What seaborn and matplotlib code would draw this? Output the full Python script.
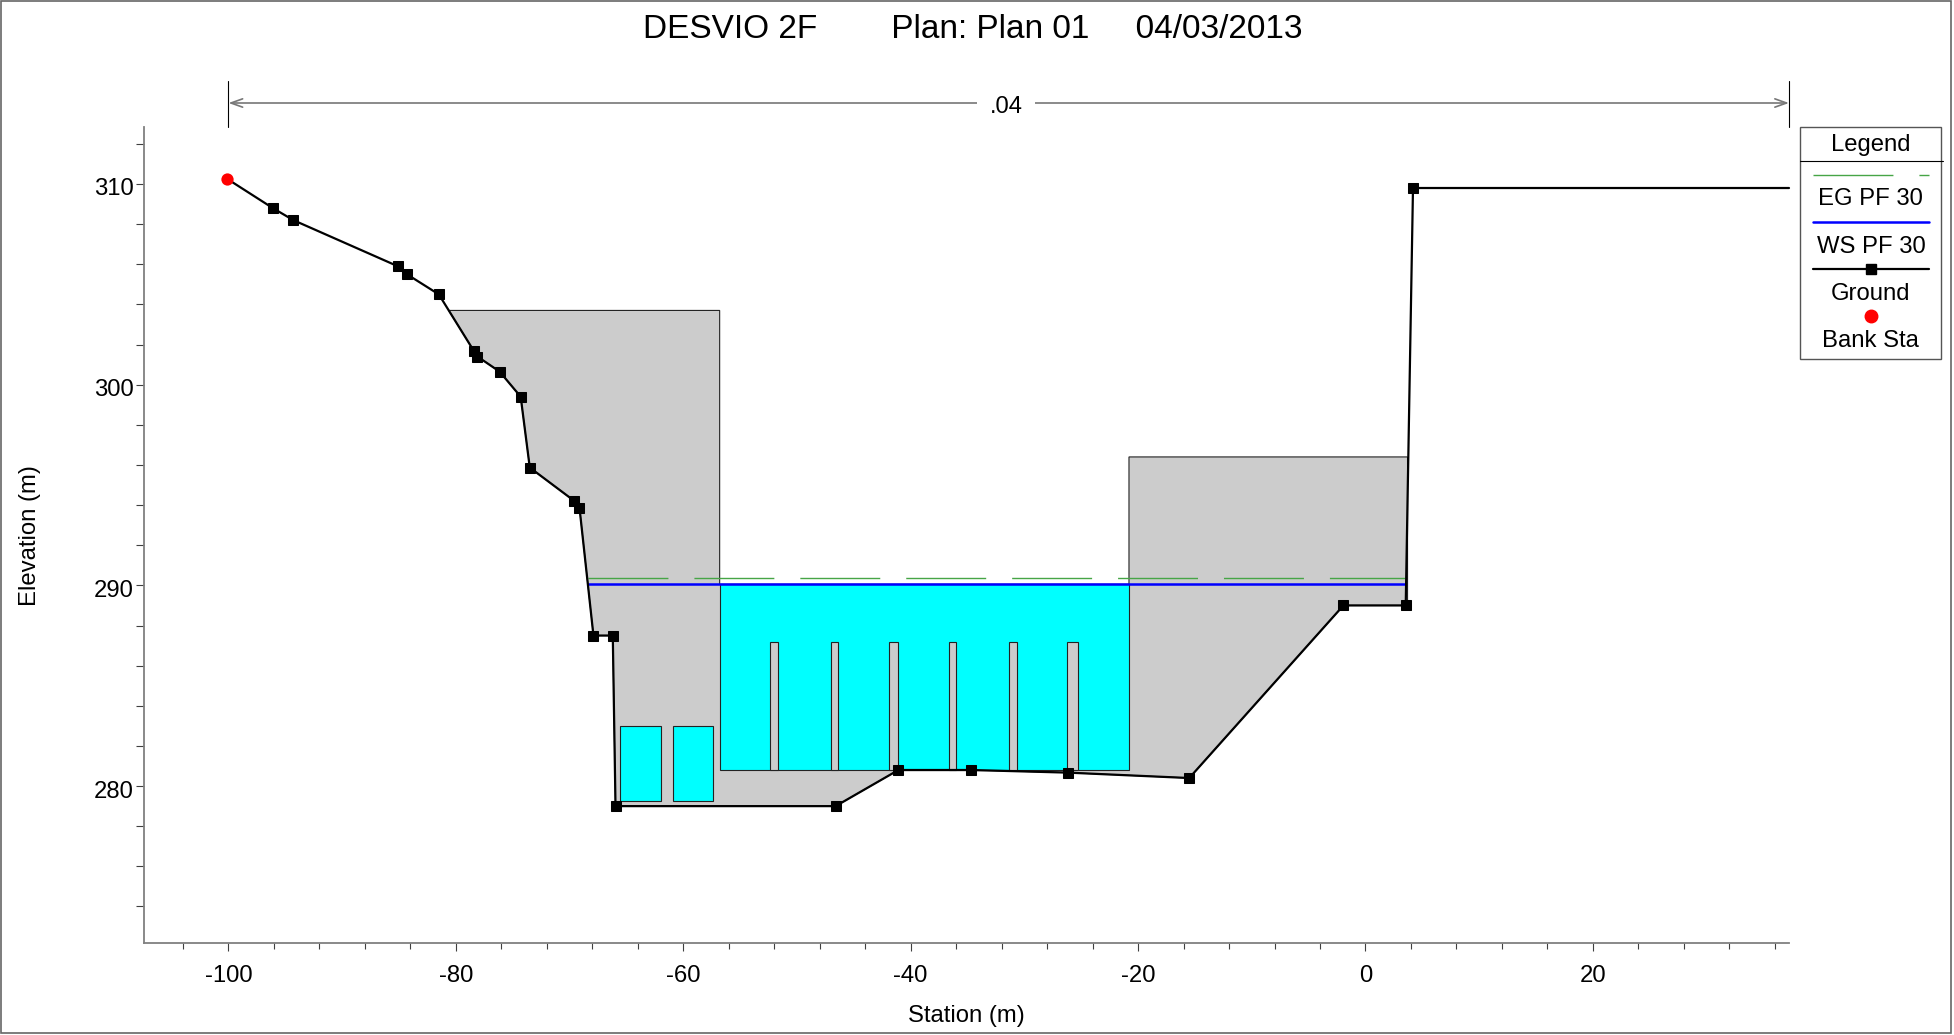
import numpy as np
import pandas as pd
import matplotlib
matplotlib.use("Agg")
import matplotlib.pyplot as plt
from matplotlib.legend_handler import HandlerLine2D
from matplotlib.lines import Line2D
from matplotlib.offsetbox import VPacker
from matplotlib.patches import Rectangle
from matplotlib.ticker import FixedLocator, FixedFormatter
from matplotlib.transforms import IdentityTransform, ScaledTranslation
import seaborn as sns

# ---- data ----
ground_x = [-100.1, -96.1, -94.3, -85.1, -84.3, -81.5, -78.44, -78.1, -76.15, -74.3, -73.5,
            -69.57, -69.13, -67.9, -66.2, -65.96, -46.6, -41.08, -34.7, -26.2, -15.5,
            -1.94, 3.54, 4.18, 37.25]
ground_y = [310.25, 308.8, 308.2, 305.9, 305.5, 304.5, 301.7, 301.4, 300.65, 299.4, 295.87,
            294.2, 293.88, 287.5, 287.5, 279.0, 279.0, 280.8, 280.8, 280.67, 280.4,
            289.0, 289.0, 309.8, 309.8]
bank_x = [-100.1]
bank_y = [310.25]
ws_x = [-68.4, 3.5]
ws_y = [290.05, 290.05]
eg_x = [-68.4, 3.5]
eg_y = [290.37, 290.37]

left_block_x = [-80.63, -56.8]
left_block_top = 303.7
right_block_x = [-20.8, 3.7]
right_block_top = 296.4
water_x = [-56.8, -20.8]
water_y = [280.8, 290.05]
pillar_x = [(-52.39, -51.71), (-47.05, -46.36), (-41.91, -41.08),
            (-36.63, -35.99), (-31.32, -30.67), (-26.23, -25.32)]
pillar_y = [280.8, 287.18]
culvert_x = [(-65.53, -61.94), (-60.87, -57.41)]
culvert_y = [279.24, 283.0]

xticks_major = [-100, -80, -60, -40, -20, 0, 20]
xticks_minor = [-104, -96, -92, -88, -84, -76, -72, -68, -64, -56, -52, -48, -44, -36, -32,
                -28, -24, -16, -12, -8, -4, 4, 8, 12, 16, 24, 28, 32, 36]
yticks_major = [280, 290, 300, 310]
yticks_minor = [274, 276, 278, 282, 284, 286, 288, 292, 294, 296, 298, 302, 304, 306, 308, 312]

title = "DESVIO 2F        Plan: Plan 01     04/03/2013"
manning = ".04"

# ---- style ----
sns.set_theme(style="white")
FS = 17.2
plt.rcParams["font.family"] = ["Liberation Sans", "DejaVu Sans"]
plt.rcParams["axes.unicode_minus"] = False

W, H = 1954, 1035
fig = plt.figure(figsize=(W / 100, H / 100), dpi=100, facecolor="white")
ax = fig.add_axes([144 / W, (H - 943) / H, (1789 - 144) / W, (943 - 127) / H])
ax.set_xlim(-107.43, 37.25)
ax.set_ylim(272.18, 312.84)

GRAY = "#cccccc"
CYAN = "#00ffff"
GREEN = "#46a546"
EDGE = dict(edgecolor="#222222", linewidth=0.8)

# grey obstruction outline following the ground
gx, gy = np.array(ground_x), np.array(ground_y)
poly_x = [left_block_x[0]] + list(gx[6:23]) + [right_block_x[1], right_block_x[1], right_block_x[0],
          right_block_x[0], left_block_x[1], left_block_x[1]]
poly_y = [left_block_top] + list(gy[6:23]) + [gy[22], right_block_top, right_block_top,
          water_y[1], water_y[1], left_block_top]
ax.fill(poly_x, poly_y, facecolor=GRAY, zorder=1, **EDGE)

ax.add_patch(Rectangle((water_x[0], water_y[0]), water_x[1] - water_x[0], water_y[1] - water_y[0],
                       facecolor=CYAN, zorder=2, **EDGE))
for a, b in pillar_x:
    ax.add_patch(Rectangle((a, pillar_y[0]), b - a, pillar_y[1] - pillar_y[0],
                           facecolor=GRAY, zorder=3, **EDGE))
for a, b in culvert_x:
    ax.add_patch(Rectangle((a, culvert_y[0]), b - a, culvert_y[1] - culvert_y[0],
                           facecolor=CYAN, zorder=3, **EDGE))

sns.lineplot(x=eg_x, y=eg_y, ax=ax, color=GREEN, linewidth=1.0, linestyle="-",
             dashes=False, zorder=4).lines[-1].set_linestyle((0, (80 / 1.39, 26 / 1.39)))
sns.lineplot(x=ws_x, y=ws_y, ax=ax, color="#0000ff", linewidth=1.8, zorder=5)

ground_df = pd.DataFrame({"Station": ground_x, "Elevation": ground_y})
sns.lineplot(data=ground_df, x="Station", y="Elevation", ax=ax, sort=False, estimator=None,
             color="black", linewidth=1.6, marker="s", markersize=7.2, markeredgecolor="black",
             markevery=list(range(1, len(ground_x) - 1)), zorder=6, clip_on=False)
sns.scatterplot(x=bank_x, y=bank_y, ax=ax, color="#ff0000", s=78, linewidth=0, zorder=7, clip_on=False)

# ---- axes ----
sns.despine(ax=ax)
for s in ("left", "bottom"):
    ax.spines[s].set_color("#808080")
    ax.spines[s].set_linewidth(1.3)
ax.xaxis.set_major_locator(FixedLocator(xticks_major))
ax.xaxis.set_major_formatter(FixedFormatter([str(v) for v in xticks_major]))
ax.xaxis.set_minor_locator(FixedLocator(xticks_minor))
ax.yaxis.set_major_locator(FixedLocator(yticks_major))
ax.yaxis.set_major_formatter(FixedFormatter([str(v) for v in yticks_major]))
ax.yaxis.set_minor_locator(FixedLocator(yticks_minor))
ax.tick_params(axis="both", which="both", direction="out", color="#404040", width=0.8,
               bottom=True, left=True, labelsize=FS, labelcolor="black")
ax.tick_params(axis="x", which="major", length=6, pad=10)
ax.tick_params(axis="x", which="minor", length=4.5)
ax.tick_params(axis="y", which="both", length=5.5, pad=2)
ax.set_xlabel("")
ax.set_ylabel("")
down = ScaledTranslation(0, -3 / 100, fig.dpi_scale_trans)
for lab in ax.yaxis.get_majorticklabels():
    lab.set_transform(lab.get_transform() + down)
fig.text(966 / W, 1 - 1016 / H, "Station (m)", ha="center", va="center", fontsize=FS, color="black")
fig.text(30 / W, 1 - 536 / H, "Elevation (m)", ha="center", va="center", rotation=90, fontsize=FS, color="black")
ax.set_title(title, x=(973 - 144) / 1645, y=(943 - 29.5) / 816, va="center", fontsize=24, color="black", pad=0)

# ---- Manning's n bar ----
xt = ax.get_xaxis_transform()
bar_y = (943 - 103) / 816
bar_top = (943 - 81) / 816
for v in (xticks_major[0], ax.get_xlim()[1]):
    ax.plot([v, v], [1.0, bar_top], transform=xt, color="black", lw=0.8, clip_on=False)
ax.annotate("", xy=(xticks_major[0], bar_y), xytext=(ax.get_xlim()[1], bar_y),
            xycoords=xt, textcoords=xt, annotation_clip=False,
            arrowprops=dict(arrowstyle="<->,head_length=0.7,head_width=0.25", color="#777777",
                            lw=1.2, shrinkA=0, shrinkB=0))
ax.text(-31.6, bar_y - 4 / 816, manning, transform=xt, ha="center", va="center", fontsize=FS,
        color="black", bbox=dict(facecolor="white", edgecolor="none", pad=9), clip_on=False)


# ---- legend: labels stacked below handles ----
class InsetLine(HandlerLine2D):
    def create_artists(self, legend, orig, xd, yd, w, h, fs, trans):
        ins = 4.0
        return super().create_artists(legend, orig, xd - ins, yd, w - 2 * ins, h, fs, trans)


handles = [Line2D([], [], color=GREEN, lw=1.0, linestyle=(0, (80 / 1.39, 26 / 1.39))),
           Line2D([], [], color="#0000ff", lw=1.8),
           Line2D([], [], color="black", lw=1.6, marker="s", markersize=7.2),
           Line2D([], [], color="#ff0000", lw=0, marker="o", markersize=9)]
labels = ["EG PF 30", "WS PF 30", "Ground", "Bank Sta"]
leg = ax.legend(handles, labels, title="Legend", loc="upper left",
                bbox_to_anchor=(1800.3 / W, 1 - 127.3 / H), bbox_transform=fig.transFigure,
                fontsize=FS, title_fontsize=FS, frameon=True, fancybox=False, framealpha=1,
                edgecolor="#555555", facecolor="white", borderpad=0.3, borderaxespad=0,
                handlelength=5.31, handletextpad=0, labelspacing=0.12, numpoints=1,
                labelcolor="black", handler_map={Line2D: InsetLine(numpoints=1)})
leg.get_title().set_color("black")
leg.get_frame().set_linewidth(1.0)
for col in leg._legend_handle_box.get_children():
    col.align = "center"
    for row in col.get_children():
        row.__class__ = VPacker
        row.align = "center"
        row.sep = 4
        row.pad = 0
leg._legend_box.sep = 7
fig.add_artist(Line2D([1800.3, 1943], [H - 160.5, H - 160.5], transform=IdentityTransform(), color="black", lw=0.8))

# ---- outer frame ----
fig.add_artist(Rectangle((1, 2), 1950, 1032, transform=IdentityTransform(), fill=False,
                         edgecolor="#666666", linewidth=1.2))

fig.savefig("out.png", dpi=100, facecolor="white")
